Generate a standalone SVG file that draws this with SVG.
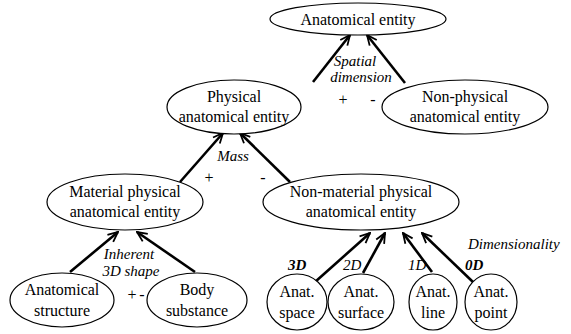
<svg xmlns="http://www.w3.org/2000/svg" width="571" height="334" viewBox="0 0 571 334">
<style>
.n{fill:#fff;stroke:#000;stroke-width:1.2}
.t{font-family:'Liberation Serif','Times New Roman','DejaVu Serif',serif;font-size:16px;text-anchor:middle;fill:#000}
.l{font-family:'Liberation Serif','Times New Roman','DejaVu Serif',serif;font-size:15px;font-style:italic;fill:#000}
.c{stroke:#000;stroke-width:2.6;fill:none;marker-end:url(#ah)}
</style>
<defs>
<marker id="ah" markerUnits="userSpaceOnUse" viewBox="0 0 12 12" refX="11" refY="6" markerWidth="12" markerHeight="12" orient="auto">
<path d="M1,1.5 L11,6 L1,10.5" fill="none" stroke="#000" stroke-width="1.8"/>
</marker>
</defs>
<g id="connectors">
<line class="c" x1="313" y1="82" x2="350" y2="35"/>
<line class="c" x1="405" y1="83" x2="367" y2="35"/>
<line class="c" x1="180" y1="182" x2="223" y2="133"/>
<line class="c" x1="290" y1="182" x2="240" y2="133"/>
<line class="c" x1="70" y1="272" x2="118" y2="232"/>
<line class="c" x1="195" y1="272" x2="137" y2="232"/>
<line class="c" x1="315" y1="282" x2="370" y2="233"/>
<line class="c" x1="363" y1="273" x2="385" y2="233"/>
<line class="c" x1="432" y1="272" x2="403" y2="233"/>
<line class="c" x1="473" y1="282" x2="422" y2="233"/>
</g>
<g id="labels">
<text class="l" x="355" y="66" text-anchor="middle">Spatial</text>
<text class="l" x="361" y="82" text-anchor="middle">dimension</text>
<text class="t" x="343" y="105">+</text>
<text class="t" x="373" y="105">-</text>
<text class="l" x="233" y="161" text-anchor="middle">Mass</text>
<text class="t" x="209" y="183">+</text>
<text class="t" x="263" y="183">-</text>
<text class="l" x="129" y="259" text-anchor="middle">Inherent</text>
<text class="l" x="131" y="276" text-anchor="middle">3D shape</text>
<text class="t" x="132" y="300">+</text>
<text class="t" x="142" y="300">-</text>
<text class="l" x="468" y="249">Dimensionality</text>
<text class="l" x="288" y="270" font-weight="bold">3D</text>
<text class="l" x="343" y="270">2D</text>
<text class="l" x="408" y="270">1D</text>
<text class="l" x="465" y="270" font-weight="bold">0D</text>
</g>
<g id="anatomical-entity">
<ellipse class="n" cx="358" cy="19" rx="88" ry="16"/>
<text class="t" x="358" y="25">Anatomical entity</text>
</g>
<g id="physical">
<ellipse class="n" cx="234" cy="107" rx="67" ry="27"/>
<text class="t" x="234" y="102">Physical</text>
<text class="t" x="234" y="122">anatomical entity</text>
</g>
<g id="non-physical">
<ellipse class="n" cx="465" cy="107" rx="83" ry="27"/>
<text class="t" x="465" y="102">Non-physical</text>
<text class="t" x="465" y="122">anatomical entity</text>
</g>
<g id="material">
<ellipse class="n" cx="125" cy="202" rx="78" ry="28"/>
<text class="t" x="125" y="197">Material physical</text>
<text class="t" x="125" y="217">anatomical entity</text>
</g>
<g id="non-material">
<ellipse class="n" cx="361" cy="202" rx="98" ry="28"/>
<text class="t" x="361" y="197">Non-material physical</text>
<text class="t" x="361" y="217">anatomical entity</text>
</g>
<g id="structure">
<ellipse class="n" cx="62" cy="300" rx="52" ry="27"/>
<text class="t" x="62" y="295">Anatomical</text>
<text class="t" x="62" y="316">structure</text>
</g>
<g id="substance">
<ellipse class="n" cx="197" cy="300" rx="50" ry="27"/>
<text class="t" x="197" y="295">Body</text>
<text class="t" x="197" y="316">substance</text>
</g>
<g id="space">
<ellipse class="n" cx="297" cy="302" rx="30" ry="28"/>
<text class="t" x="297" y="297">Anat.</text>
<text class="t" x="297" y="318">space</text>
</g>
<g id="surface">
<ellipse class="n" cx="361" cy="302" rx="33" ry="28"/>
<text class="t" x="361" y="297">Anat.</text>
<text class="t" x="361" y="318">surface</text>
</g>
<g id="line">
<ellipse class="n" cx="433" cy="302" rx="24" ry="28"/>
<text class="t" x="433" y="297">Anat.</text>
<text class="t" x="433" y="318">line</text>
</g>
<g id="point">
<ellipse class="n" cx="491" cy="302" rx="26" ry="28"/>
<text class="t" x="491" y="297">Anat.</text>
<text class="t" x="491" y="318">point</text>
</g>
</svg>
